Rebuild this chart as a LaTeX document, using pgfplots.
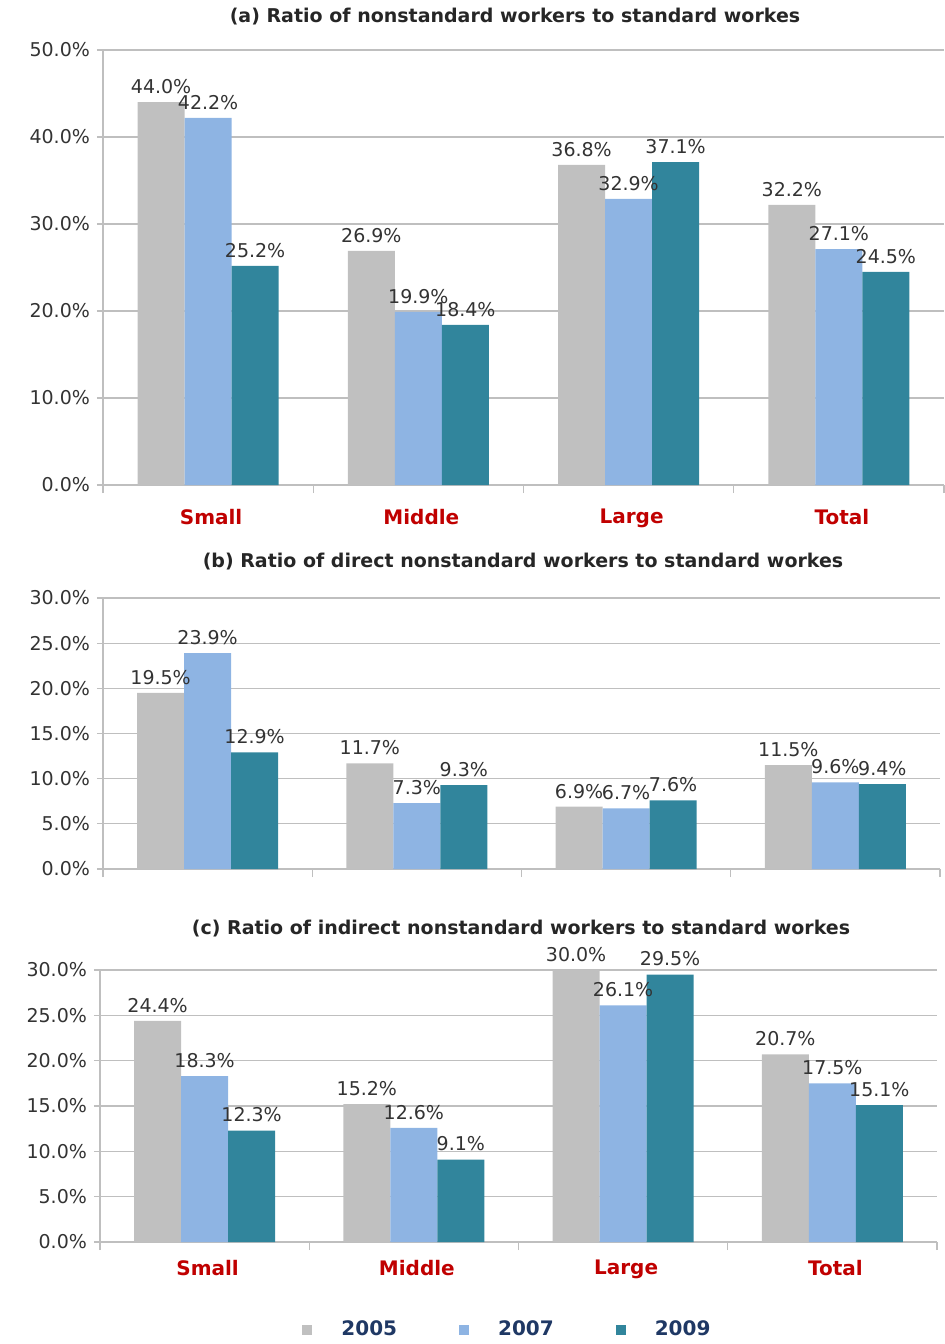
\documentclass[border=0pt]{standalone}
\usepackage{pgfplots}
\pgfplotsset{compat=1.18}
\usepackage{fontspec}
\setmainfont{DejaVu Sans}
\definecolor{c05}{HTML}{C0C0C0}
\definecolor{c07}{HTML}{8EB4E3}
\definecolor{c09}{HTML}{31859C}
\definecolor{catred}{HTML}{C00000}
\definecolor{gridc}{HTML}{BFBFBF}
\definecolor{txt}{HTML}{333333}
\definecolor{legc}{HTML}{1F3864}
\pgfplotsset{
 mybar/.style={
  scale only axis, ybar=0pt, bar width=23.5pt,
  xmin=-0.5, xmax=3.5, ymin=0,
  axis x line*=bottom, axis y line*=left,
  axis line style={gridc, line width=0.6pt},
  xtick={0,1,2,3},
  major x tick style={draw=none},
  minor xtick={-0.5,0.5,1.5,2.5,3.5},
  minor x tick style={gridc, line width=0.6pt},
  tick align=outside, minor tick length=4pt, major tick length=3pt,
  ytick style={gridc, line width=0.6pt},
  ymajorgrids, grid style={gridc, line width=0.6pt},
  yticklabel={\pgfmathprintnumber[fixed,fixed zerofill,precision=1]{\tick}\%},
  /pgf/number format/assume math mode=true,
  yticklabel style={font=\fontsize{9.5}{11}\selectfont, text=txt},
  xticklabel style={font=\fontsize{10}{12}\selectfont\bfseries, text=catred, xshift=1.5pt},
  nodes near coords={\pgfmathprintnumber[fixed,fixed zerofill,precision=1]{\pgfplotspointmeta}\%},
  nodes near coords style={font=\fontsize{9.5}{11}\selectfont, text=txt, inner sep=1.5pt, yshift=2.5pt},
  every axis plot/.append style={draw=none},
  clip=false,
 }
}
\begin{document}
\begin{tikzpicture}
% Panel (a)
\node[font=\fontsize{9.5}{11}\selectfont\bfseries, text=black!85] at (257.5pt,-8.5pt) {(a) Ratio of nonstandard workers to standard workes};
\begin{axis}[mybar, at={(51.5pt,-242.5pt)}, anchor=south west,
  width=420.5pt, height=217.5pt, ymax=50, ytick distance=10,
  xticklabels={Small,Middle,Large,Total},
  xticklabel style={yshift=-5.5pt}]
\addplot[fill=c05] coordinates {(0,44.0) (1,26.9) (2,36.8) (3,32.2)};
\addplot[fill=c07] coordinates {(0,42.2) (1,19.9) (2,32.9) (3,27.1)};
\addplot[fill=c09] coordinates {(0,25.2) (1,18.4) (2,37.1) (3,24.5)};
\end{axis}
% Panel (b)
\node[font=\fontsize{9.5}{11}\selectfont\bfseries, text=black!85] at (261.5pt,-281pt) {(b) Ratio of direct nonstandard workers to standard workes};
\begin{axis}[mybar, at={(51.5pt,-434.5pt)}, anchor=south west,
  width=418.5pt, height=135.5pt, ymax=30, ytick distance=5,
  xticklabels={,,,}]
\addplot[fill=c05] coordinates {(0,19.5) (1,11.7) (2,6.9) (3,11.5)};
\addplot[fill=c07] coordinates {(0,23.9) (1,7.3) (2,6.7) (3,9.6)};
\addplot[fill=c09] coordinates {(0,12.9) (1,9.3) (2,7.6) (3,9.4)};
\end{axis}
% Panel (c)
\node[font=\fontsize{9.5}{11}\selectfont\bfseries, text=black!85] at (260.5pt,-464.5pt) {(c) Ratio of indirect nonstandard workers to standard workes};
\begin{axis}[mybar, at={(50pt,-621pt)}, anchor=south west,
  width=418.5pt, height=136pt, ymax=30, ytick distance=5,
  xticklabels={Small,Middle,Large,Total},
  xticklabel style={yshift=-2.5pt},
  legend columns=3,
  legend image code/.code={\fill[#1] (0pt,-2.5pt) rectangle (5pt,2.5pt);},
  legend style={draw=none, fill=none, at={(0.488,-0.3235)}, anchor=center,
    font=\fontsize{10}{12}\selectfont\bfseries, text=legc,
    /tikz/every odd column/.append style={column sep=12.5pt},
    /tikz/every even column/.append style={column sep=29pt}}]
\addplot[fill=c05] coordinates {(0,24.4) (1,15.2) (2,30.0) (3,20.7)};
\addplot[fill=c07] coordinates {(0,18.3) (1,12.6) (2,26.1) (3,17.5)};
\addplot[fill=c09] coordinates {(0,12.3) (1,9.1) (2,29.5) (3,15.1)};
\legend{2005,2007,2009}
\end{axis}
\pgfresetboundingbox
\path[use as bounding box] (0,0) rectangle (472pt,-672pt);
\end{tikzpicture}
\end{document}
